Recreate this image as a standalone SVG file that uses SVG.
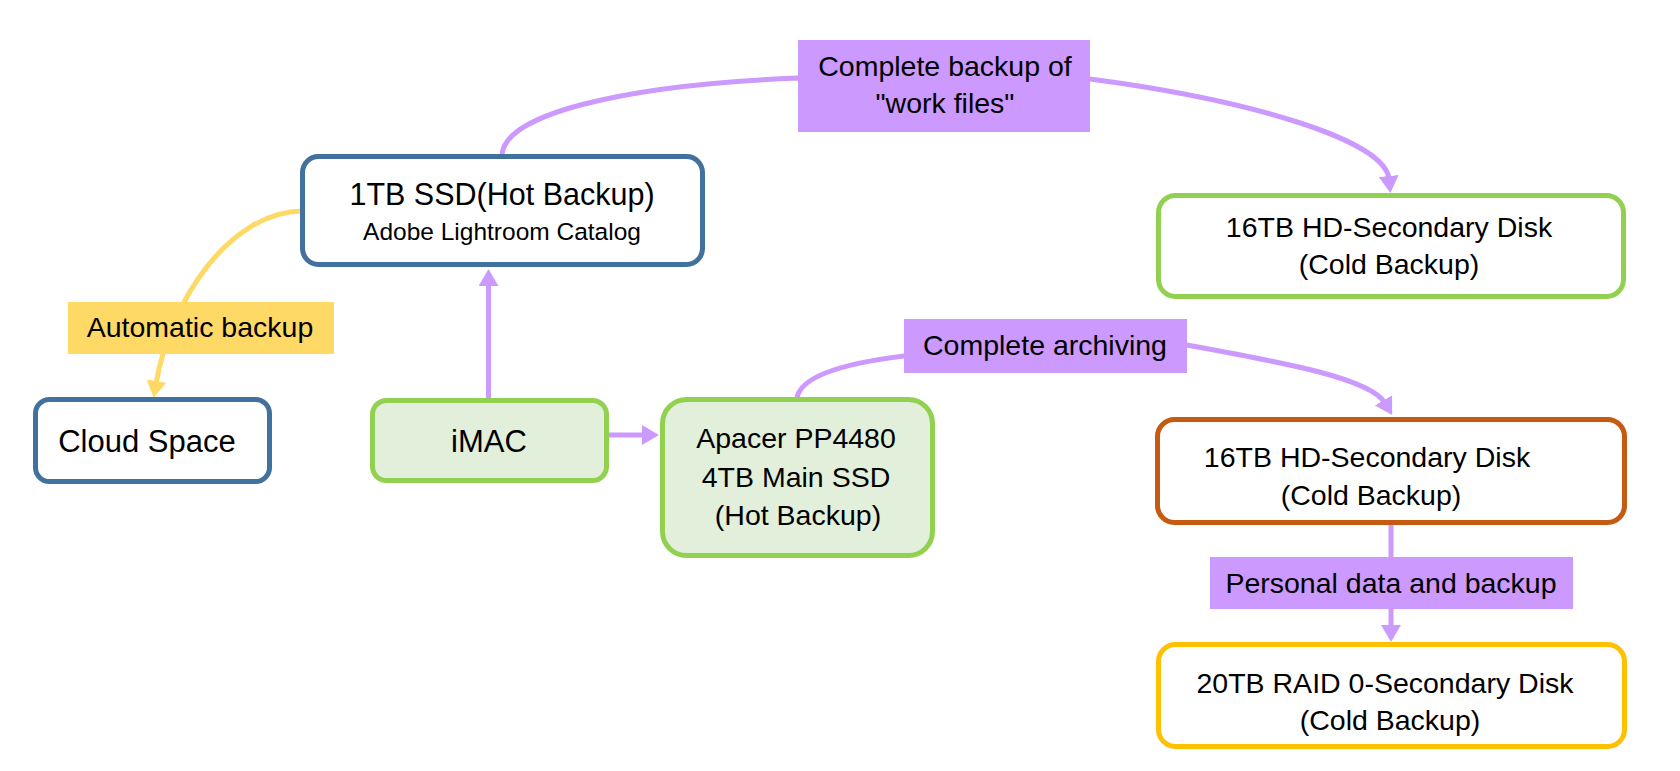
<svg xmlns="http://www.w3.org/2000/svg" width="1680" height="771" viewBox="0 0 1680 771">
<defs>
<style>
text{font-family:"Liberation Sans",Arial,sans-serif;fill:#000;text-anchor:middle}
.t{font-size:28.5px}
.big{font-size:31px}
.sub{font-size:24.5px}
.box{stroke-width:5}
.blue{fill:#fff;stroke:#41719C}
.green{fill:#E2EFDA;stroke:#92D050}
.greenw{fill:#fff;stroke:#92D050}
.orange{fill:#fff;stroke:#C55A11}
.gold{fill:#fff;stroke:#FFC000}
.pl{fill:#CC99FF}
.yl{fill:#FFD966}
.cp{fill:none;stroke:#CC99FF;stroke-width:5}
.cy{fill:none;stroke:#FFD966;stroke-width:5}
</style>
<marker id="ap" markerUnits="userSpaceOnUse" markerWidth="20" markerHeight="22" refX="3" refY="10" orient="auto">
<path d="M0,0 L17,10 L0,20 z" fill="#CC99FF"/>
</marker>
<marker id="ay" markerUnits="userSpaceOnUse" markerWidth="20" markerHeight="22" refX="3" refY="10" orient="auto">
<path d="M0,0 L17,10 L0,20 z" fill="#FFD966"/>
</marker>
</defs>
<rect width="1680" height="771" fill="#fff"/>
<g id="connectors">
<path class="cy" d="M302,211 C230,212 170,300 156,384" marker-end="url(#ay)"/>
<path class="cp" d="M488.5,398 L488.5,283" marker-end="url(#ap)"/>
<path class="cp" d="M609,435 L645,435" marker-end="url(#ap)"/>
<path class="cp" d="M502,156 C502,115 620,85 798,78 L1090,79 C1250,100 1385,140 1389,179" marker-end="url(#ap)"/>
<path class="cp" d="M797,398 C800,380 830,365 904,356 L1187,345 C1280,362 1370,378 1385,403" marker-end="url(#ap)"/>
<path class="cp" d="M1391,525 L1391,628" marker-end="url(#ap)"/>
</g>
<g id="label-automatic">
<rect class="yl" x="68" y="302" width="266" height="52"/>
<text class="t" x="200" y="337">Automatic backup</text>
</g>
<g id="label-complete-backup">
<rect class="pl" x="798" y="40" width="292" height="92"/>
<text class="t" x="945" y="76">Complete backup of</text>
<text class="t" x="945" y="113">"work files"</text>
</g>
<g id="label-archiving">
<rect class="pl" x="904" y="319" width="283" height="54"/>
<text class="t" x="1045" y="355">Complete archiving</text>
</g>
<g id="label-personal">
<rect class="pl" x="1210" y="557" width="363" height="52"/>
<text class="t" x="1391" y="593">Personal data and backup</text>
</g>
<g id="node-1tb">
<rect class="box blue" x="302.5" y="156.5" width="400" height="108" rx="16"/>
<text style="font-size:30.5px" x="502" y="205">1TB SSD(Hot Backup)</text>
<text class="sub" x="502" y="240">Adobe Lightroom Catalog</text>
</g>
<g id="node-cloud">
<rect class="box blue" x="35.5" y="399.5" width="234" height="82" rx="14"/>
<text class="big" x="147" y="452">Cloud Space</text>
</g>
<g id="node-imac">
<rect class="box green" x="372.5" y="400.5" width="234" height="80" rx="14"/>
<text class="big" x="489" y="452">iMAC</text>
</g>
<g id="node-apacer">
<rect class="box green" x="662.5" y="399.5" width="270" height="156" rx="24"/>
<text class="t" x="796" y="448">Apacer PP4480</text>
<text class="t" x="796" y="487">4TB Main SSD</text>
<text class="t" x="798" y="525">(Hot Backup)</text>
</g>
<g id="node-16tb-green">
<rect class="box greenw" x="1158.5" y="195.5" width="465" height="101" rx="17"/>
<text class="t" x="1389" y="237">16TB HD-Secondary Disk</text>
<text class="t" x="1389" y="274">(Cold Backup)</text>
</g>
<g id="node-16tb-orange">
<rect class="box orange" x="1157.5" y="419.5" width="467" height="103" rx="17"/>
<text class="t" x="1367" y="467">16TB HD-Secondary Disk</text>
<text class="t" x="1371" y="505">(Cold Backup)</text>
</g>
<g id="node-20tb">
<rect class="box gold" x="1158.5" y="644.5" width="466" height="102" rx="17"/>
<text class="t" x="1385" y="693">20TB RAID 0-Secondary Disk</text>
<text class="t" x="1390" y="730">(Cold Backup)</text>
</g>
</svg>
